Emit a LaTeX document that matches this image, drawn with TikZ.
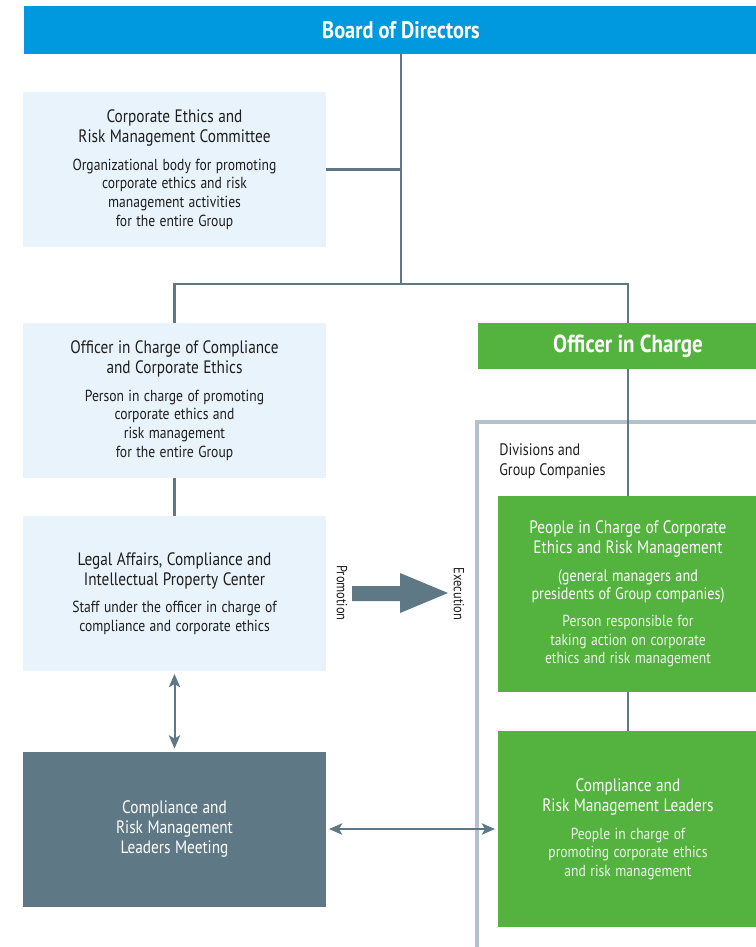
\documentclass[tikz,border=0pt]{standalone}
\usepackage{fontspec}
\setmainfont{PT Sans}[FakeStretch=0.85]
\usepackage{tikz}
\usetikzlibrary{arrows.meta,positioning,calc}
\usepackage{xcolor}
\definecolor{boardblue}{RGB}{0,152,222}
\definecolor{panelblue}{RGB}{232,243,252}
\definecolor{groupgreen}{RGB}{84,178,62}
\definecolor{slate}{RGB}{94,120,133}
\definecolor{framegray}{RGB}{178,194,203}
\definecolor{ink}{RGB}{30,30,30}
\newcommand{\boxtitle}[1]{{\fontsize{13.5}{15}\selectfont #1\par}\vspace{7pt}}
\newcommand{\boxparen}[1]{{\fontsize{12.5}{13.6}\selectfont #1\par}\vspace{6.5pt}}
\newcommand{\boxbody}[1]{{\fontsize{12}{13.9}\selectfont #1\par}}
\tikzset{
    headbar/.style={rectangle, text=white, inner sep=0pt},
    panel/.style={rectangle, fill=panelblue, text=ink, minimum width=227.25pt, minimum height=116.25pt, text width=220pt, align=center, inner sep=0pt},
    slatebox/.style={panel, fill=slate, text=white},
    greenbox/.style={rectangle, fill=groupgreen, text=white, minimum width=195pt, minimum height=147pt, text width=190pt, align=center, inner sep=0pt},
    link/.style={draw=slate, line width=1.8pt},
    both/.style={link, line width=1.5pt, {Stealth[length=10pt,width=8.5pt,inset=2.5pt]}-{Stealth[length=10pt,width=8.5pt,inset=2.5pt]}, shorten <=2pt, shorten >=2pt},
    frame/.style={draw=framegray, line width=3pt},
    sidelabel/.style={text=ink, font=\fontsize{11}{13}\selectfont, inner sep=0pt},
}

\begin{document}
\begin{tikzpicture}[x=0.75pt, y=-0.75pt]
    \useasboundingbox (0,0) rectangle (756,947);
    \clip (0,0) rectangle (756,947);

    % Board on top
    \node[headbar, fill=boardblue, minimum width=565.5pt, minimum height=36pt, font=\bfseries\fontsize{18}{20}\selectfont] (board) at (401,30) {Board of Directors};

    % Left column
    \node[panel] (committee) at (174.5,169.5) {\boxtitle{Corporate Ethics and\\Risk Management Committee}\boxbody{Organizational body for promoting\\corporate ethics and risk\\management activities\\for the entire Group}};
    \node[panel] (officer) at (174.5,400.5) {\boxtitle{Officer in Charge of Compliance\\and Corporate Ethics}\boxbody{Person in charge of promoting\\corporate ethics and\\risk management\\for the entire Group}};
    \node[panel] (legal) at (174.5,593.5) {\boxtitle{Legal Affairs, Compliance and\\Intellectual Property Center}\boxbody{Staff under the officer in charge of\\compliance and corporate ethics}};
    \node[slatebox] (meeting) at (174.5,829) {{\fontsize{13.5}{15}\selectfont Compliance and\\Risk Management\\Leaders Meeting\par}};

    % Right column
    \node[headbar, fill=groupgreen, minimum width=225pt, minimum height=34.5pt, font=\bfseries\fontsize{18.5}{20}\selectfont] (oic) at (628,346) {Officer in Charge};
    \draw[frame] (477,960) |- (770,421.5);
    \node[anchor=north west, align=left, text=ink, inner sep=0pt, font=\fontsize{12.5}{15}\selectfont] (divisions) at (499,443) {Divisions and\\Group Companies};
    \node[greenbox] (people) at (628,594) {\boxtitle{People in Charge of Corporate\\Ethics and Risk Management}\boxparen{(general managers and\\presidents of Group companies)}\boxbody{\color{white!88!groupgreen}Person responsible for\\taking action on corporate\\ethics and risk management}};
    \node[greenbox] (leaders) at (628,829) {\boxtitle{Compliance and\\Risk Management Leaders}\boxbody{\color{white!88!groupgreen}People in charge of\\promoting corporate ethics\\and risk management}};

    % Links
    \coordinate (split) at (401,284);
    \draw[link] (board) -- (split);
    \draw[link] (committee.east) -- (committee.east -| split);
    \draw[link] (officer.north) |- (split) -| (oic.north);
    \draw[link] (officer) -- (legal);
    \draw[link] (oic) -- (people);
    \draw[link] (people) -- (leaders);
    \draw[both] (legal.south) -- (meeting.north);
    \draw[both] (meeting.east) -- (meeting.east -| leaders.west);

    % Promotion -> Execution
    \node[sidelabel, rotate=-90] (promo) at (342,593) {Promotion};
    \node[sidelabel, rotate=-90] (exec) at (459,594) {Execution};
    \fill[slate] (352,586) -- (400,586) -- (400,573) -- (448,593) -- (400,613) -- (400,601) -- (352,601) -- cycle;
\end{tikzpicture}
\end{document}
